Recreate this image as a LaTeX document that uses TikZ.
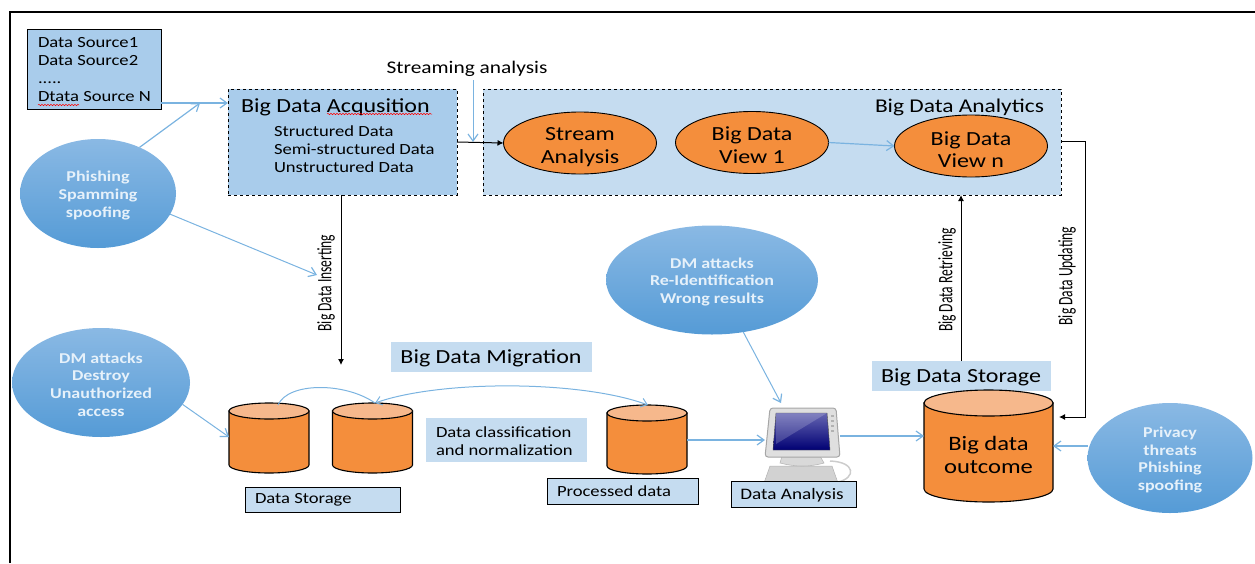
\documentclass[tikz,border=0pt]{standalone}
\usepackage{fontspec}
\setmainfont{Carlito}[FakeStretch=1.2]
\newfontfamily\rotfont{Carlito}[FakeStretch=0.66]
\usetikzlibrary{arrows.meta,shapes.geometric,decorations.pathmorphing}
\definecolor{boxA}{HTML}{A9CCEB}
\definecolor{boxB}{HTML}{C5DCF0}
\definecolor{orangeF}{HTML}{F48E3C}
\definecolor{orangeT}{HTML}{F6B88C}
\definecolor{lineB}{HTML}{7AB3E0}
\definecolor{thTop}{HTML}{8AB9E4}
\definecolor{thBot}{HTML}{559BD6}
\definecolor{thText}{HTML}{E6F1FA}
\newcommand{\cylnode}[6]{% name, cx, top, bottom, rx, ry
  \path[draw=black,line width=1.1pt,fill=orangeF] (#2-#5,#4-#6) arc[start angle=180,end angle=360,x radius=#5,y radius=-#6] -- (#2+#5,#3+#6) -- (#2-#5,#3+#6) -- cycle;
  \path[draw=black,line width=1.1pt,fill=orangeT] (#2,#3+#6) ellipse[x radius=#5,y radius=#6];
  \node[minimum width=2*#5 pt,minimum height=#4pt-#3pt] (#1) at (#2,#3/2+#4/2) {};
}
\tikzset{
  every node/.style={inner sep=0pt,outer sep=0pt,align=center},
  bluearrow/.style={draw=lineB,line width=1.2pt,-{Straight Barb[length=7pt,width=10pt,line width=1.2pt]}},
  blackarrow/.style={draw=black,line width=1pt,-{Latex[length=6pt,width=6pt]}},
  threat/.style={ellipse,minimum width=#1,minimum height=109pt,top color=thTop,bottom color=thBot},
  threattext/.style={text=thText,font=\fontsize{15}{17.7}\selectfont\bfseries},
  orange ell/.style={ellipse,draw=black,line width=.9pt,fill=orangeF,minimum width=153pt,minimum height=62pt},
  ell text/.style={font=\fontsize{20}{22.5}\selectfont},
  smallcap/.style={draw=black,line width=1pt,fill=boxB,anchor=north west},
  flat/.style={fill=boxB,anchor=north west},
  rottext/.style={rotate=90,font=\fontsize{20.5}{18}\rotfont}
}
\begin{document}
\begin{tikzpicture}[x=1pt,y=-1pt]
\useasboundingbox (0,0) rectangle (1255,563);
% outer frame
\draw[line width=2pt] (10,563) -- (10,12) -- (1255,12);
% boxes
\node[draw=black,line width=1pt,fill=boxA,anchor=north west,minimum width=134pt,minimum height=80pt] (src) at (27,29) {};
\node[anchor=north west,align=left,font=\fontsize{15.5}{18}\selectfont] (srct) at (38,37.5) {Data Source1\\Data Source2\\.....\\Dtata Source N};
\draw[red,line width=.5pt,decorate,decoration={snake,amplitude=.7pt,segment length=3pt}] (38,105) -- (79,105);
\node[draw=black,dashed,line width=1pt,fill=boxA,anchor=north west,minimum width=229pt,minimum height=106pt] (acq) at (228,89) {};
\node[anchor=west,font=\fontsize{20}{24}\selectfont] (acqt) at (241,107) {Big Data Acqusition};
\draw[red,line width=.5pt,decorate,decoration={snake,amplitude=.7pt,segment length=3pt}] (327,114) -- (432,114);
\node[anchor=north west,align=left,font=\fontsize{15.5}{17.7}\selectfont] (acql) at (274,126) {Structured Data\\Semi-structured Data\\Unstructured Data};
\node[draw=black,dashed,line width=1pt,fill=boxB,anchor=north west,minimum width=578pt,minimum height=106pt] (ana) at (483,89) {};
\node[anchor=west,font=\fontsize{19.5}{24}\selectfont] (anat) at (875,107) {Big Data Analytics};
\node[font=\fontsize{17.8}{20}\selectfont] (stl) at (467,69) {Streaming analysis};
\coordinate (stlb) at (473,80);
% orange ellipses
\node[orange ell] (stream) at (580,143) {};
\node[ell text] (streamt) at (580,147) {Stream\\Analysis};
\node[orange ell] (v1) at (752,142.5) {};
\node[ell text] (v1t) at (752,145) {Big Data\\View 1};
\node[orange ell] (vn) at (971,146) {};
\node[ell text] (vnt) at (971,149.5) {Big Data\\View n};
% threat ellipses
\node[threat=156pt] (ph) at (98,193.5) {};
\node[threattext] (pht) at (98,195.5) {Phishing\\Spamming\\spoofing};
\node[threat=178pt] (dm1) at (101,382.5) {};
\node[threattext] (dm1t) at (101,384.5) {DM attacks\\Destroy\\Unauthorized\\access};
\node[threat=212pt] (dm2) at (712,280) {};
\node[threattext] (dm2t) at (712,282) {DM attacks\\Re-Identification\\Wrong results};
\node[threat=165pt,minimum height=110pt] (pr) at (1170,458) {};
\node[threattext] (prt) at (1170,460) {Privacy\\threats\\Phishing\\spoofing};
% flat labels
\node[flat,minimum width=201pt,minimum height=30pt] (migb) at (391,342) {};
\node[font=\fontsize{20}{24}\selectfont] (mig) at (491,358) {Big Data Migration};
\node[flat,minimum width=161pt,minimum height=44pt] (clsb) at (426,418) {};
\node[anchor=west,align=left,font=\fontsize{15.5}{18.5}\selectfont] (cls) at (436,441) {Data classification\\and normalization};
\node[flat,minimum width=179pt,minimum height=30pt] (bdsb) at (872,361) {};
\node[font=\fontsize{20}{24}\selectfont] (bds) at (961,377) {Big Data Storage};
% cylinders
\cylnode{c1}{269}{403}{473}{40}{8}
\cylnode{c2}{372.5}{403}{473}{40}{8}
\cylnode{c3}{647}{405}{474}{40}{8}
\cylnode{c4}{988.5}{390}{502}{64.5}{13}
\node[font=\fontsize{20.5}{22.5}\selectfont] (c4t) at (988.5,455) {Big data\\outcome};
% caption boxes
\node[smallcap,minimum width=155pt,minimum height=25pt] (dsb) at (245,487) {};
\node[anchor=west,font=\fontsize{15.5}{18}\selectfont] (ds) at (255,500) {Data Storage};
\node[smallcap,minimum width=151pt,minimum height=26pt] (pdb) at (547,478) {};
\node[anchor=west,font=\fontsize{15.5}{18}\selectfont] (pd) at (557,491) {Processed data};
% computer
\coordinate (pcL) at (765,440);
\coordinate (pcR) at (840,436);
\coordinate (pcT) at (781,403);
\fill[gray!35,draw=gray!60,line width=.5pt] (770,466) -- (832,466) -- (838,483) -- (764,483) -- cycle;
\draw[gray!40,line width=1.5pt] (830,461) .. controls (856,462) and (856,478) .. (838,482);
\draw[gray!55,line width=.6pt,fill=gray!30] (782,456) -- (820,456) -- (824,463) .. controls (810,467) and (795,467) .. (780,463) -- cycle;
\draw[gray!70,line width=1pt,fill=gray!25,rounded corners=3pt] (770,408) -- (836,408) -- (840,457) -- (765,457) -- cycle;
\shade[top color=blue!50!black!60!white,bottom color=blue!45!black,draw=gray!60!black,line width=.4pt] (776,413) -- (827,413) -- (830,450) -- (773,450) -- cycle;
\fill[white,opacity=.18] (776,413) -- (827,413) -- (776,444) -- cycle;
\foreach \q in {415,420,425,430} \fill[gray!60] (831,\q) rectangle (834,\q+2);
\node[smallcap,minimum width=125pt,minimum height=26pt] (dab) at (731,481) {};
\node[font=\fontsize{16}{18}\selectfont] (da) at (792,495) {Data Analysis};
% rotated labels
\node[rottext] (ins) at (326,283) {Big Data Inserting};
\node[rottext] (ret) at (947,280) {Big Data Retrieving};
\node[rottext] (upd) at (1067,276) {Big Data Updating};
% blue connectors
\coordinate (mj) at (200,103);
\draw[bluearrow] (src.east|-0,103) -- (acq.west|-0,103);
\draw[bluearrow] (ph.48.5) -- (mj);
\coordinate (phE) at (317,275);
\draw[bluearrow,line width=1pt] (ph.-16) -- (phE);
\draw[bluearrow,line width=1pt] (stlb) -- (473,142);
\draw[bluearrow] (v1.east) -- (vn.west);
\draw[bluearrow,line width=1pt] (dm1.-15) -- (c1.west|-0,437);
\draw[bluearrow,line width=1pt] (dm2.-59) -- (pcT);
\draw[bluearrow] (c3.east|-0,440) -- (pcL);
\draw[bluearrow] (pcR) -- (c4.west|-0,436);
\draw[bluearrow] (pr.west|-0,446) -- (c4.east|-0,446);
\draw[draw=lineB,line width=1pt] (278,405) .. controls (288,382) and (345,382) .. (375,403);
\draw[draw=lineB,line width=1pt,{Straight Barb[length=6pt,width=9pt]}-{Straight Barb[length=6pt,width=9pt]}] (375,403) .. controls (440,380) and (580,380) .. (648,405);
% black connectors
\draw[blackarrow] (acq.east|-0,142) -- (stream.west);
\draw[blackarrow] (acq.south-|341,0) -- (341,365);
\draw[blackarrow] (bdsb.north-|961,0) -- (ana.south-|961,0);
\draw[blackarrow] (ana.east|-0,141) -- (1085,141) -- (1085,417) -- (1059,417);
\end{tikzpicture}
\end{document}
